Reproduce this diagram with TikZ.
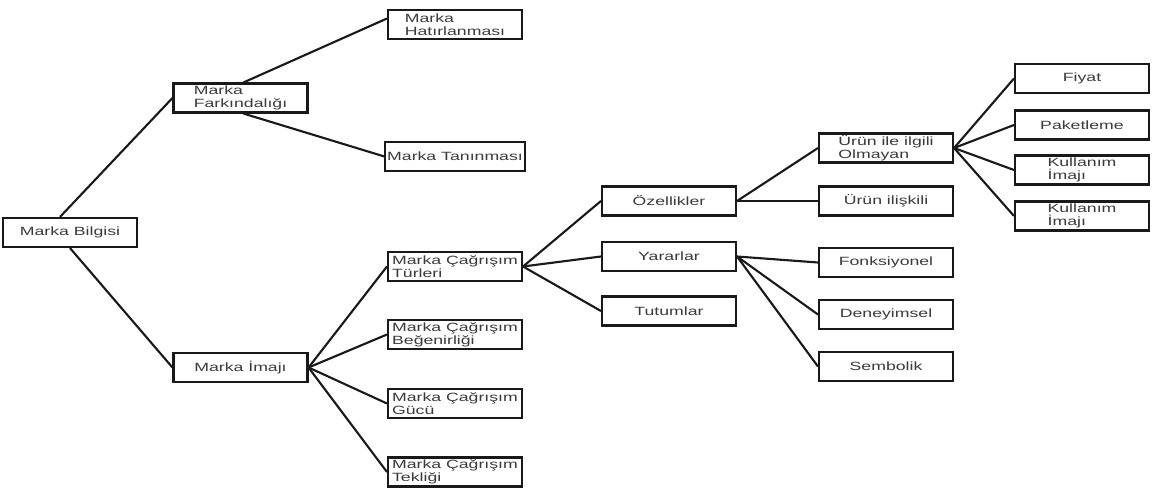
\documentclass[tikz,border=0pt]{standalone}
\usepackage{fontspec}
\newfontfamily\boxfont[FakeStretch=1.48]{Liberation Sans}
\usepackage{tikz}
\usetikzlibrary{positioning,calc}
\definecolor{txtgray}{HTML}{3A3A3A}
\tikzset{
  box/.style={draw=black!90, line width=1.2pt, fill=white, align=left, text=txtgray,
    font=\boxfont\fontsize{6.8pt}{7.4pt}\selectfont,
    minimum width=2.68cm, minimum height=0.58cm, inner sep=1pt},
  link/.style={line width=1.2pt, black!90}}

\begin{document}
\begin{tikzpicture}[x=0.02cm, y=-0.02cm]
  \useasboundingbox (0,0) rectangle (1159,493);
  % level 0 and 1
  \node[box] (bilgi) at (70,232.5) {Marka Bilgisi};
  \node[box] (fark) at (240.5,98) {Marka\\Farkındalığı};
  \node[box] (imaj) at (240.5,367.5) {Marka İmajı};
  % level 2
  \node[box] (hatir) at (455,24.5) {Marka\\Hatırlanması};
  \node[box] (tanin) at (455,156.5) {Marka Tanınması};
  \node[box] (turler) at (455,266.5) {Marka Çağrışım\\Türleri};
  \node[box] (begeni) at (455,334.5) {Marka Çağrışım\\Beğenirliği};
  \node[box] (guc) at (455,403.5) {Marka Çağrışım\\Gücü};
  \node[box] (tekl) at (455,472) {Marka Çağrışım\\Tekliği};
  % level 3
  \node[box] (ozel) at (669,201) {Özellikler};
  \node[box] (yarar) at (669,256.5) {Yararlar};
  \node[box] (tutum) at (669,311) {Tutumlar};
  % level 4
  \node[box] (olmayan) at (886,148) {Ürün ile ilgili\\Olmayan};
  \node[box] (iliskili) at (886,201) {Ürün ilişkili};
  \node[box] (fonk) at (886,262.5) {Fonksiyonel};
  \node[box] (deney) at (886,314.5) {Deneyimsel};
  \node[box] (sembol) at (886,366.5) {Sembolik};
  % level 5
  \node[box] (fiyat) at (1082,78.5) {Fiyat};
  \node[box] (paket) at (1082,125) {Paketleme};
  \node[box] (kull1) at (1082,170) {Kullanım\\İmajı};
  \node[box] (kull2) at (1082,216) {Kullanım\\İmajı};
  % connectors
  \draw[link] ($(bilgi.north)+(-10,0)$) -- (fark.west);
  \draw[link] (bilgi.south) -- (imaj.west);
  \draw[link] ($(fark.north)+(3,0)$) -- ($(hatir.west)+(0,-6)$);
  \draw[link] ($(fark.south)+(3,0)$) -- (tanin.west);
  \foreach \c in {turler,begeni,guc,tekl} \draw[link] (imaj.east) -- (\c.west);
  \foreach \c in {ozel,yarar,tutum} \draw[link] (turler.east) -- (\c.west);
  \foreach \c in {olmayan,iliskili} \draw[link] (ozel.east) -- (\c.west);
  \foreach \c in {fonk,deney,sembol} \draw[link] (yarar.east) -- (\c.west);
  \foreach \c in {fiyat,paket,kull1,kull2} \draw[link] (olmayan.east) -- (\c.west);
\end{tikzpicture}
\end{document}
